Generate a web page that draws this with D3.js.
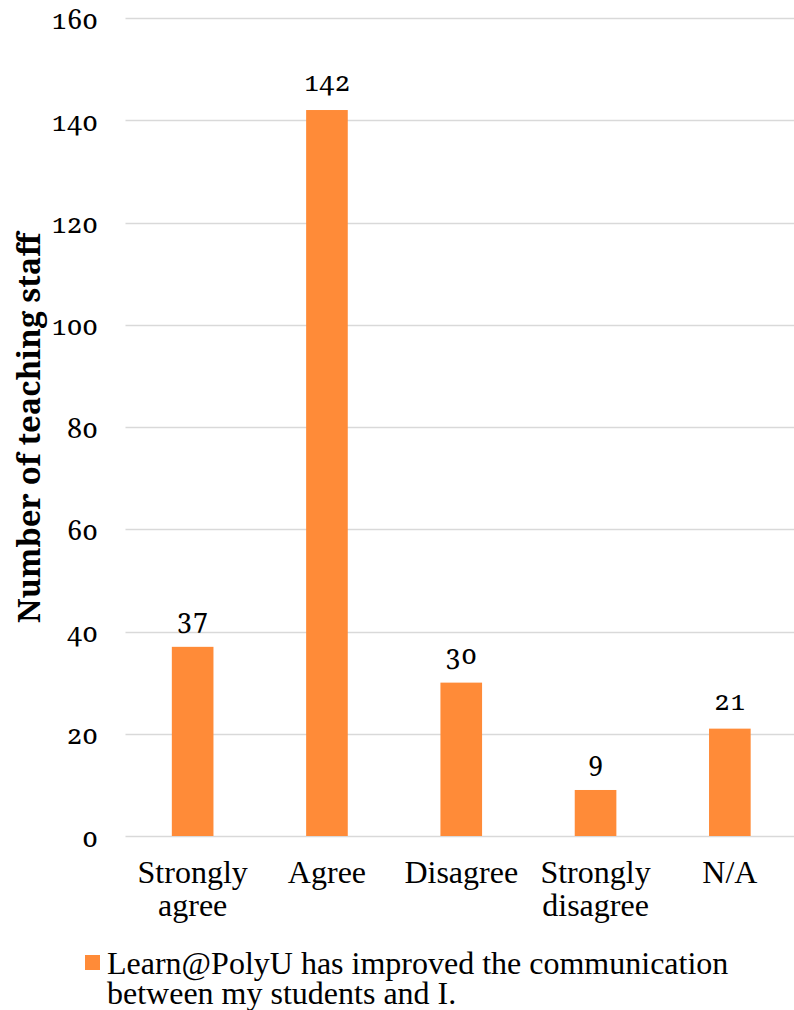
<!DOCTYPE html>
<html><head><meta charset="utf-8">
<script src="https://cdn.jsdelivr.net/npm/d3@7"></script>
<style>body{margin:0;background:#fff}svg{display:block}</style>
</head><body>
<script>
const categories = [["Strongly","agree"],["Agree"],["Disagree"],["Strongly","disagree"],["N/A"]];
const values = [37,142,30,9,21];
const yTicks = [0,20,40,60,80,100,120,140,160];
const seriesName = ["Learn@PolyU has improved the communication","between my students and I."];
const yTitle = "Number of teaching staff";

(function(){
const W=794,H=1010;
const svg=d3.select("body").append("svg").attr("width",W).attr("height",H);
const pL=125.5, pR=797, pT=18, pB=836;
const ids=categories.map((d,i)=>i);
const x=d3.scaleBand().domain(ids).range([pL,pR]).paddingInner(0.69).paddingOuter(0.345);
const y=d3.scaleLinear().domain([0,160]).range([pB,pT]);

const numFont="Noto Serif";
svg.append("g").selectAll("line").data(yTicks).join("line")
  .attr("x1",pL).attr("x2",W).attr("y1",d=>Math.round(y(d))+0.5).attr("y2",d=>Math.round(y(d))+0.5)
  .attr("stroke","#d9d9d9").attr("stroke-width",1.5);
const ya=svg.append("g").attr("transform",`translate(98,0)`)
  .call(d3.axisLeft(y).tickValues(yTicks).tickSize(0).tickPadding(0));
ya.select(".domain").remove();
ya.selectAll("text").attr("font-family",numFont).attr("font-size",27).attr("fill","#000")
  .attr("dy","10px").style("font-variant-numeric","oldstyle-nums");
svg.append("g").selectAll("rect").data(values).join("rect")
  .attr("x",(d,i)=>x(i)).attr("width",x.bandwidth())
  .attr("y",d=>y(d)).attr("height",d=>y(0)-y(d)).attr("fill","#FF8B38");
svg.append("g").selectAll("text").data(values).join("text")
  .attr("x",(d,i)=>x(i)+x.bandwidth()/2).attr("y",d=>y(d)-19)
  .attr("text-anchor","middle").attr("font-family",numFont).attr("font-size",27).attr("fill","#000")
  .style("font-variant-numeric","oldstyle-nums")
  .text(d=>d);
const cg=svg.append("g").selectAll("text").data(categories).join("text")
  .attr("x",(d,i)=>x(i)+x.bandwidth()/2).attr("y",883)
  .attr("text-anchor","middle").attr("font-family","Liberation Serif").attr("font-size",32).attr("fill","#000");
cg.selectAll("tspan").data(d=>d).join("tspan")
  .attr("x",function(){return this.parentNode.getAttribute("x");})
  .attr("dy",(d,i)=>i?33:0).text(d=>d);
svg.append("text").attr("transform",`translate(40,428) rotate(-90)`)
  .attr("text-anchor","middle").attr("font-family",numFont).attr("font-weight","bold")
  .attr("font-size",31).attr("fill","#000").text(yTitle);
svg.append("rect").attr("x",85).attr("y",955).attr("width",15).attr("height",15).attr("fill","#FF8B38");
const lt=svg.append("text").attr("x",107).attr("y",974).attr("font-family","Liberation Serif").attr("font-size",32).attr("fill","#000");
lt.selectAll("tspan").data(seriesName).join("tspan").attr("x",107).attr("dy",(d,i)=>i?30:0).text(d=>d);
})();
</script>
</body></html>
